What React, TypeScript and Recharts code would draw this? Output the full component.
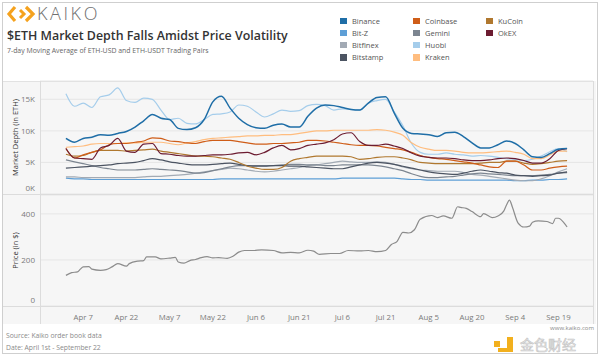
import { CartesianGrid, Line, LineChart, XAxis, YAxis } from 'recharts'

// days since April 1st, sampled every 3 days
const days = [
  0, 3, 6, 9, 12, 15, 18, 21, 24, 27, 30, 33, 36, 39, 42, 45, 48, 51, 54, 57,
  60, 63, 66, 69, 72, 75, 78, 81, 84, 87, 90, 93, 96, 99, 102, 105, 108, 111,
  114, 117, 120, 123, 126, 129, 132, 135, 138, 141, 144, 147, 150, 153, 156,
  159, 162, 165, 168, 171, 174,
]

// market depth, thousands of ETH
const huobi = [
  15.9, 13.9, 14.4, 13.7, 15.4, 15.7, 16.8, 14.8, 14.5, 15.2, 15.0, 13.3, 11.8,
  12.0, 11.2, 11.1, 11.8, 12.6, 12.7, 13.0, 14.1, 13.9, 13.0, 12.2, 12.7, 13.3,
  13.1, 13.2, 14.0, 14.2, 14.0, 13.3, 13.5, 13.4, 13.3, 14.4, 14.8, 15.0, 13.0,
  10.8, 8.0, 6.6, 6.3, 6.3, 6.5, 6.3, 6.2, 6.0, 6.1, 6.0, 5.8, 5.6, 5.5, 5.3,
  5.5, 6.0, 6.7, 7.2, 6.7,
]
const binance = [
  8.8, 8.2, 8.8, 9.0, 9.4, 9.3, 9.6, 9.9, 10.6, 11.6, 12.6, 12.0, 11.8, 10.4,
  10.2, 10.5, 11.8, 14.6, 15.5, 13.6, 12.0, 11.0, 10.5, 10.4, 10.9, 11.1, 10.6,
  10.6, 12.3, 13.6, 14.1, 14.0, 13.7, 13.4, 13.3, 14.4, 15.3, 15.4, 12.8, 10.4,
  9.6, 9.5, 9.4, 9.1, 9.7, 9.8, 9.1, 8.1, 7.3, 7.3, 7.8, 8.4, 8.0, 7.0, 5.9,
  5.8, 6.4, 7.1, 7.2,
]
const coinbase = [
  7.2, 5.7, 6.2, 6.6, 7.0, 7.8, 8.0, 8.0, 8.2, 8.4, 8.9, 8.8, 8.4, 8.3, 8.1, 8.0,
  8.3, 8.5, 8.5, 8.5, 8.3, 8.1, 7.9, 7.9, 8.0, 8.0, 8.1, 8.2, 8.5, 8.5, 8.4, 8.2,
  8.0, 7.8, 7.7, 7.7, 7.6, 7.4, 7.2, 7.0, 6.6, 6.1, 5.8, 5.6, 5.5, 5.3, 5.1, 4.9,
  4.6, 4.3, 4.2, 5.2, 5.2, 4.6, 3.8, 3.8, 4.1, 4.3, 4.4,
]
const kraken = [
  7.4, 7.5, 7.6, 7.9, 8.0, 8.0, 8.0, 8.1, 8.1, 8.2, 8.2, 8.2, 8.0, 7.8, 8.1, 8.3,
  8.6, 8.8, 8.9, 9.0, 9.1, 9.2, 9.2, 9.3, 9.3, 9.4, 9.4, 9.6, 9.8, 10.0, 10.0,
  10.1, 10.1, 10.1, 10.1, 10.1, 10.2, 10.1, 9.8, 9.3, 8.1, 7.4, 7.1, 6.9, 6.9,
  6.8, 6.6, 6.5, 6.5, 6.6, 6.7, 6.8, 6.6, 6.3, 5.6, 5.6, 6.2, 6.8, 6.8,
]
const kucoin = [
  6.3, 6.0, 6.1, 6.6, 6.9, 6.9, 6.9, 6.8, 6.9, 7.0, 7.1, 6.8, 6.6, 6.4, 6.2, 6.0,
  6.0, 5.9, 5.7, 5.5, 5.0, 4.4, 4.1, 3.9, 3.9, 4.2, 5.2, 5.6, 5.8, 6.0, 6.0, 6.0,
  6.0, 5.9, 5.5, 5.6, 5.8, 5.9, 5.9, 5.7, 5.4, 5.0, 4.9, 4.8, 4.8, 4.8, 4.8, 4.8,
  4.9, 5.0, 5.0, 5.2, 5.2, 4.9, 4.7, 4.8, 5.0, 5.2, 5.3,
]
const okex = [
  7.2, 5.7, 5.6, 5.5, 7.3, 7.7, 8.8, 6.8, 6.6, 7.9, 8.0, 6.4, 6.3, 6.1, 6.0, 6.0,
  6.1, 6.2, 6.2, 6.3, 6.5, 6.6, 6.2, 6.6, 7.3, 7.7, 7.0, 7.2, 7.7, 7.9, 8.1, 8.6,
  9.5, 9.7, 8.3, 7.7, 7.7, 7.9, 7.6, 7.2, 6.5, 6.0, 5.8, 5.7, 5.7, 5.6, 5.4, 5.3,
  5.3, 5.4, 5.6, 5.7, 5.6, 5.3, 4.9, 4.9, 5.6, 6.9, 7.2,
]
const bitstamp = [
  4.1, 4.2, 4.3, 4.4, 4.5, 4.6, 4.8, 4.9, 5.0, 5.3, 5.6, 5.4, 5.1, 4.9, 4.7, 4.6,
  4.6, 4.7, 4.8, 4.9, 4.7, 4.5, 4.4, 4.4, 4.5, 4.5, 4.4, 4.4, 4.3, 4.2, 4.1, 4.0,
  4.0, 4.3, 4.6, 4.9, 5.0, 4.9, 4.7, 4.4, 4.1, 3.8, 3.5, 3.3, 3.2, 3.1, 3.3, 3.6,
  3.8, 3.6, 3.4, 3.3, 3.0, 2.9, 2.8, 2.9, 3.0, 3.3, 3.5,
]
const gemini = [
  5.4, 5.1, 4.8, 4.5, 4.2, 4.0, 3.8, 3.8, 3.8, 3.9, 4.0, 3.9, 3.8, 3.7, 3.5, 3.3,
  3.4, 3.7, 4.0, 4.3, 4.5, 4.5, 4.5, 4.5, 4.5, 4.6, 4.7, 4.7, 4.6, 4.6, 4.5, 4.5,
  4.6, 4.6, 4.6, 4.6, 4.5, 4.3, 4.0, 3.7, 3.2, 2.8, 2.6, 2.6, 2.7, 2.8, 3.0, 3.2,
  3.3, 3.2, 3.1, 3.0, 2.9, 2.9, 2.9, 3.0, 3.1, 3.3, 3.4,
]
const bitfinex = [
  2.7, 2.7, 2.6, 2.6, 2.6, 2.6, 2.6, 2.6, 2.6, 2.7, 2.8, 2.8, 2.9, 3.0, 3.1, 3.3,
  3.5, 3.7, 3.9, 4.1, 4.0, 3.8, 3.6, 3.5, 3.6, 3.8, 4.0, 4.2, 4.5, 4.6, 4.8, 5.0,
  5.2, 5.1, 5.0, 5.0, 5.1, 5.0, 4.7, 4.3, 4.0, 3.8, 3.7, 3.6, 3.6, 3.6, 3.4, 3.1,
  3.0, 2.8, 2.6, 2.4, 2.2, 2.1, 2.1, 2.4, 2.9, 3.5, 4.0,
]
const bitz = [
  2.5, 2.4, 2.4, 2.3, 2.3, 2.3, 2.3, 2.3, 2.3, 2.3, 2.3, 2.3, 2.3, 2.3, 2.3, 2.3,
  2.3, 2.3, 2.4, 2.4, 2.4, 2.4, 2.4, 2.4, 2.4, 2.4, 2.4, 2.4, 2.4, 2.4, 2.4, 2.4,
  2.5, 2.5, 2.5, 2.5, 2.5, 2.5, 2.5, 2.4, 2.3, 2.3, 2.2, 2.2, 2.2, 2.2, 2.2, 2.2,
  2.2, 2.2, 2.2, 2.2, 2.1, 2.1, 2.2, 2.2, 2.3, 2.3, 2.4,
]

// ETH price, read at irregular days
const priceDays = [
  0, 2, 4, 5, 6, 8, 9, 12, 14, 16, 18, 21, 22, 25, 27, 28, 31, 33, 36, 38, 39,
  41, 43, 45, 47, 49, 51, 53, 56, 58, 60, 62, 65, 68, 72, 75, 78, 81, 84, 86,
  88, 92, 95, 98, 102, 105, 108, 111, 113, 115, 117, 119, 121, 123, 127, 129,
  131, 134, 136, 137, 139, 141, 144, 145, 148, 150, 152, 153, 154, 155, 157,
  159, 161, 162, 164, 167, 169, 170, 171, 173, 174,
]
const priceValues = [
  133, 145, 148, 160, 170, 171, 160, 155, 158, 170, 184, 173, 184, 195, 197,
  213, 213, 205, 208, 211, 191, 186, 197, 202, 210, 214, 209, 210, 207, 216,
  234, 241, 241, 244, 241, 231, 233, 231, 242, 238, 224, 228, 228, 241, 239,
  241, 236, 241, 267, 281, 320, 317, 331, 377, 393, 384, 391, 381, 431, 428,
  424, 410, 388, 401, 384, 391, 412, 440, 460, 430, 360, 343, 347, 364, 370,
  367, 358, 381, 381, 360, 343,
]

const tickDays = [6, 21, 36, 51, 66, 81, 96, 111, 126, 141, 156, 171]
const tickLabels = [
  'Apr 7', 'Apr 22', 'May 7', 'May 22', 'Jun 6', 'Jun 21',
  'Jul 6', 'Jul 21', 'Aug 5', 'Aug 20', 'Sep 4', 'Sep 19',
]

const exchanges = [
  { key: 'binance', name: 'Binance', color: '#1f6ea7', values: binance },
  { key: 'bitz', name: 'Bit-Z', color: '#5e9fd6', values: bitz },
  { key: 'bitfinex', name: 'Bitfinex', color: '#a2aab4', values: bitfinex },
  { key: 'bitstamp', name: 'Bitstamp', color: '#4c5462', values: bitstamp },
  { key: 'coinbase', name: 'Coinbase', color: '#cf5d18', values: coinbase },
  { key: 'gemini', name: 'Gemini', color: '#7c8590', values: gemini },
  { key: 'huobi', name: 'Huobi', color: '#a5cdeb', values: huobi },
  { key: 'kraken', name: 'Kraken', color: '#ffbd7f', values: kraken },
  { key: 'kucoin', name: 'KuCoin', color: '#b0782f', values: kucoin },
  { key: 'okex', name: 'OkEX', color: '#6c1c31', values: okex },
]
// back to front
const drawOrder = [
  'huobi', 'bitz', 'bitfinex', 'gemini', 'bitstamp', 'kucoin',
  'kraken', 'coinbase', 'okex', 'binance',
]

const depthData = days.map((d, i) => {
  const row: Record<string, number> = { day: d }
  exchanges.forEach((e) => (row[e.key] = e.values[i]))
  return row
})
const priceData = priceDays.map((d, i) => ({ day: d, price: priceValues[i] }))

const FONT = '"Open Sans", "Noto Sans", sans-serif'
const xLabel = (v: number) => tickLabels[tickDays.indexOf(v)] ?? ''

const ValueTick = ({ x, y, payload, suffix }: any) => (
  <text
    x={x}
    y={payload.value === 0 ? y - 6 : y}
    dy={3}
    textAnchor="end"
    fontSize={8}
    fontFamily={FONT}
    fill="#7b7b7b"
  >
    {payload.value}
    {suffix}
  </text>
)

function Legend() {
  const cols = [exchanges.slice(0, 4), exchanges.slice(4, 8), exchanges.slice(8)]
  return (
    <div style={{ position: 'absolute', left: 340, top: 15, display: 'flex' }}>
      {cols.map((col, ci) => (
        <div key={ci} style={{ width: 73 }}>
          {col.map((e) => (
            <div
              key={e.key}
              style={{ display: 'flex', alignItems: 'center', height: 12.1 }}
            >
              <span
                style={{
                  width: 7,
                  height: 6.5,
                  background: e.color,
                  marginRight: 5,
                }}
              />
              <span style={{ fontSize: 7.5, color: '#555', fontFamily: FONT }}>
                {e.name}
              </span>
            </div>
          ))}
        </div>
      ))}
    </div>
  )
}

const axisTitle = { fontSize: 7.5, fill: '#333', fontFamily: FONT, textAnchor: 'middle' as const }

export default function App() {
  return (
    <div
      style={{
        position: 'absolute',
        left: 0,
        top: 0,
        width: 600,
        height: 357,
        background: '#fff',
        fontFamily: FONT,
        overflow: 'hidden',
      }}
    >
      {/* frame */}
      <div
        style={{
          position: 'absolute',
          left: 2,
          top: 2,
          width: 594,
          height: 350,
          border: '1px solid #cfcfcf',
        }}
      />
      <div
        style={{
          position: 'absolute',
          left: 3,
          top: 81,
          width: 593,
          height: 243,
          background: '#f6f6f6',
        }}
      />

      {/* header */}
      <svg width={40} height={20} style={{ position: 'absolute', left: 6, top: 4 }}>
        <polyline points="9,3 3,10 9,17" fill="none" stroke="#f5a21e" strokeWidth={3.2} />
        <polyline points="14,6 18,10 14,14" fill="none" stroke="#f5a21e" strokeWidth={3} />
        <polyline points="20,3 27,10 20,17" fill="none" stroke="#f5a21e" strokeWidth={3.2} />
      </svg>
      <div
        style={{
          position: 'absolute',
          left: 37,
          top: 1,
          fontSize: 18,
          fontWeight: 300,
          letterSpacing: 2.6,
          color: '#707070',
        }}
      >
        KAIKO
      </div>
      <div
        style={{
          position: 'absolute',
          left: 7,
          top: 27,
          fontSize: 12.4,
          fontWeight: 600,
          color: '#333',
          whiteSpace: 'nowrap',
        }}
      >
        $ETH Market Depth Falls Amidst Price Volatility
      </div>
      <div
        style={{
          position: 'absolute',
          left: 7,
          top: 46,
          fontSize: 6.9,
          color: '#666',
          whiteSpace: 'nowrap',
        }}
      >
        7-day Moving Average of ETH-USD and ETH-USDT Trading Pairs
      </div>
      <Legend />

      {/* market depth panel */}
      <div style={{ position: 'absolute', left: 0, top: 0 }}>
        <LineChart
          width={600}
          height={200}
          data={depthData}
          margin={{ top: 81, right: 7, bottom: 6, left: 3 }}
        >
          <CartesianGrid vertical={false} stroke="#e6e6e6" fill="#f6f6f6" />
          <XAxis dataKey="day" type="number" domain={[-9, 183]} ticks={tickDays} hide />
          <YAxis
            width={37}
            domain={[0, 17.9]}
            ticks={[0, 5, 10, 15]}
            interval={0}
            axisLine={false}
            tickLine={false}
            tickSize={3}
            tickMargin={2}
            tick={<ValueTick suffix="K" />}
            label={{
              value: 'Market Depth (in ETH)',
              angle: -90,
              position: 'insideLeft',
              offset: 12,
              style: axisTitle,
            }}
          />
          {drawOrder.map((k) => {
            const e = exchanges.find((x) => x.key === k)!
            return (
              <Line
                key={k}
                dataKey={k}
                name={e.name}
                stroke={e.color}
                strokeWidth={k === 'binance' ? 1.5 : 1.2}
                type="monotone"
                dot={false}
                isAnimationActive={false}
              />
            )
          })}
        </LineChart>
      </div>

      {/* price panel */}
      <div style={{ position: 'absolute', left: 0, top: 0 }}>
        <LineChart
          width={600}
          height={357}
          data={priceData}
          margin={{ top: 195, right: 7, bottom: 31, left: 3 }}
        >
          <CartesianGrid vertical={false} stroke="#e6e6e6" fill="#f6f6f6" />
          <XAxis
            dataKey="day"
            type="number"
            domain={[-9, 183]}
            ticks={tickDays}
            interval={0}
            tickFormatter={xLabel}
            height={20}
            axisLine={false}
            tickLine={false}
            tick={{ fontSize: 7.8, fill: '#7b7b7b', fontFamily: FONT }}
          />
          <YAxis
            width={37}
            domain={[0, 482]}
            ticks={[0, 200, 400]}
            interval={0}
            axisLine={false}
            tickLine={false}
            tickSize={3}
            tickMargin={2}
            tick={<ValueTick suffix="" />}
            label={{
              value: 'Price (in $)',
              angle: -90,
              position: 'insideLeft',
              offset: 12,
              style: axisTitle,
            }}
          />
          <Line
            dataKey="price"
            name="Price"
            stroke="#8c8c8c"
            strokeWidth={1.2}
            type="monotone"
            dot={false}
            isAnimationActive={false}
          />
        </LineChart>
      </div>

      {/* panel rules */}
      <div style={{ position: 'absolute', left: 3, top: 81, width: 590, height: 1, background: '#e2e2e2' }} />
      <div style={{ position: 'absolute', left: 3, top: 194, width: 590, height: 1, background: '#dcdcdc' }} />
      <div style={{ position: 'absolute', left: 3, top: 306, width: 590, height: 1, background: '#dcdcdc' }} />
      <div style={{ position: 'absolute', left: 40, top: 81, width: 1, height: 243, background: '#dcdcdc' }} />
      <div style={{ position: 'absolute', left: 593, top: 81, width: 1, height: 243, background: '#dcdcdc' }} />

      {/* footer */}
      <div style={{ position: 'absolute', left: 6, top: 330, fontSize: 6.8, color: '#8a8a8a', lineHeight: '12px' }}>
        <div>Source: Kaiko order book data</div>
        <div>Date: April 1st - September 22</div>
      </div>
      <div
        style={{
          position: 'absolute',
          right: 6,
          top: 325,
          fontSize: 6,
          lineHeight: '7px',
          color: '#8a8a8a',
          whiteSpace: 'nowrap',
        }}
      >
        www.kaiko.com
      </div>
      <svg width={24} height={18} style={{ position: 'absolute', left: 493, top: 336 }}>
        <rect x={1} y={5} width={6} height={6} fill="#f2b01e" />
        <path d="M10 1 H20 V16 H5 V12 H14 V1 Z" fill="#f2b01e" />
      </svg>
      <div
        style={{
          position: 'absolute',
          left: 520,
          top: 337,
          fontSize: 14,
          fontFamily: '"Noto Sans CJK SC", sans-serif',
          color: '#f2f2f2',
          WebkitTextStroke: '0.6px #c4c4c4',
          lineHeight: '14px',
          whiteSpace: 'nowrap',
        }}
      >
        金色财经
      </div>
    </div>
  )
}
